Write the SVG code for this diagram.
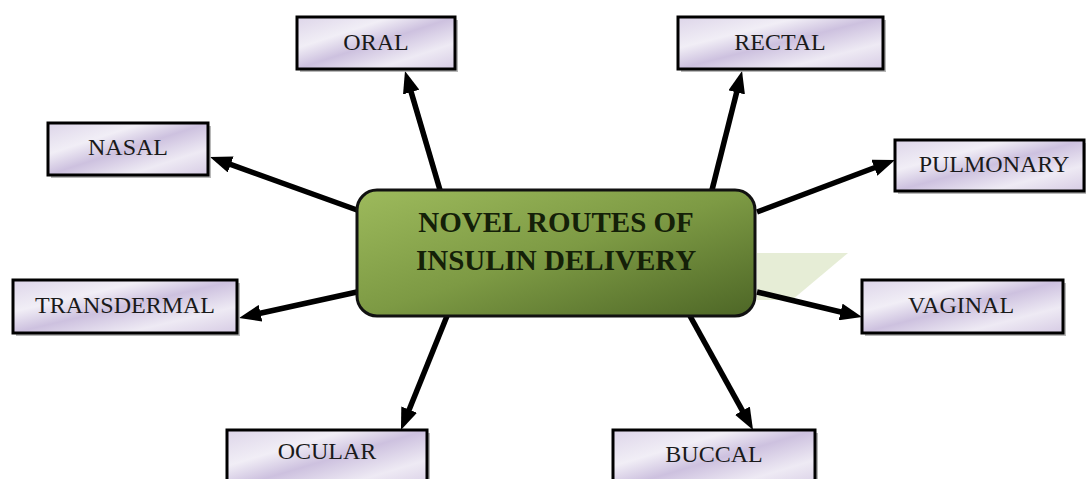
<svg xmlns="http://www.w3.org/2000/svg" width="1086" height="479" viewBox="0 0 1086 479">
  <defs>
    <linearGradient id="lav" x1="0" y1="0" x2="1" y2="1">
      <stop offset="0" stop-color="#ddd5e9"/>
      <stop offset="0.3" stop-color="#f1eef6"/>
      <stop offset="0.5" stop-color="#cdc1df"/>
      <stop offset="0.75" stop-color="#eeeaf4"/>
      <stop offset="1" stop-color="#d6cbe4"/>
    </linearGradient>
    <linearGradient id="grn" x1="0" y1="0" x2="1" y2="1">
      <stop offset="0" stop-color="#9dba5c"/>
      <stop offset="0.5" stop-color="#7d9a44"/>
      <stop offset="1" stop-color="#4d6626"/>
    </linearGradient>
    <marker id="ah" viewBox="0 0 22 17" markerUnits="userSpaceOnUse" markerWidth="22" markerHeight="17" refX="12" refY="8.5" orient="auto">
      <path d="M0,0 L22,8.5 L0,17 z" fill="#000"/>
    </marker>
    <style>
      .box { fill: url(#lav); stroke: #000; stroke-width: 3; }
      .shadow { fill: #9a9a9a; opacity: 0.7; }
      .lbl { font-family: "Liberation Serif", "Times New Roman", serif; font-size: 24px; fill: #1a1a1a; text-anchor: middle; }
      .ctr { font-family: "Liberation Serif", "Times New Roman", serif; font-size: 29px; font-weight: bold; fill: #142008; text-anchor: middle; }
      .con { stroke: #000; stroke-width: 5.5; fill: none; marker-end: url(#ah); }
    </style>
  </defs>
  <rect width="1086" height="479" fill="#fff"/>

  <polygon points="757,253 848,253 792,300 757,300" fill="#e2eacf" opacity="0.85"/>

  <g id="connectors">
    <line class="con" x1="440" y1="190" x2="407.8" y2="80.6"/>
    <line class="con" x1="712" y1="190" x2="739.6" y2="80.7"/>
    <line class="con" x1="357" y1="210" x2="219.4" y2="160.4"/>
    <line class="con" x1="757" y1="212" x2="885.6" y2="163.5"/>
    <line class="con" x1="357" y1="292" x2="248.8" y2="315.8"/>
    <line class="con" x1="757" y1="292" x2="852.3" y2="314.7"/>
    <line class="con" x1="447" y1="316" x2="404.7" y2="420.7"/>
    <line class="con" x1="690" y1="316" x2="748.2" y2="421.2"/>
  </g>

  <g id="center">
    <rect x="357" y="190" width="398" height="126" rx="20" ry="20" fill="url(#grn)" stroke="#111" stroke-width="3"/>
    <text class="ctr" x="556" y="232">NOVEL ROUTES OF</text>
    <text class="ctr" x="556" y="270">INSULIN DELIVERY</text>
  </g>

  <g id="oral">
    <rect class="shadow" x="300" y="20" width="158" height="52"/>
    <rect class="box" x="297" y="17" width="158" height="52"/>
    <text class="lbl" x="376" y="50">ORAL</text>
  </g>
  <g id="rectal">
    <rect class="shadow" x="681" y="20" width="205" height="52"/>
    <rect class="box" x="678" y="17" width="205" height="52"/>
    <text class="lbl" x="780" y="50">RECTAL</text>
  </g>
  <g id="nasal">
    <rect class="shadow" x="51" y="126" width="160" height="52"/>
    <rect class="box" x="48" y="123" width="160" height="52"/>
    <text class="lbl" x="128" y="155">NASAL</text>
  </g>
  <g id="pulmonary">
    <rect class="shadow" x="898" y="143" width="189" height="51"/>
    <rect class="box" x="895" y="140" width="189" height="51"/>
    <text class="lbl" x="994" y="172">PULMONARY</text>
  </g>
  <g id="transdermal">
    <rect class="shadow" x="16" y="283" width="224" height="53"/>
    <rect class="box" x="13" y="280" width="224" height="53"/>
    <text class="lbl" x="125" y="313">TRANSDERMAL</text>
  </g>
  <g id="vaginal">
    <rect class="shadow" x="865" y="283" width="201" height="53"/>
    <rect class="box" x="862" y="280" width="201" height="53"/>
    <text class="lbl" x="961" y="313">VAGINAL</text>
  </g>
  <g id="ocular">
    <rect class="shadow" x="230" y="433" width="200" height="60"/>
    <rect class="box" x="227" y="430" width="200" height="60"/>
    <text class="lbl" x="327" y="459">OCULAR</text>
  </g>
  <g id="buccal">
    <rect class="shadow" x="616" y="433" width="202" height="60"/>
    <rect class="box" x="613" y="430" width="202" height="60"/>
    <text class="lbl" x="714" y="462">BUCCAL</text>
  </g>
</svg>
